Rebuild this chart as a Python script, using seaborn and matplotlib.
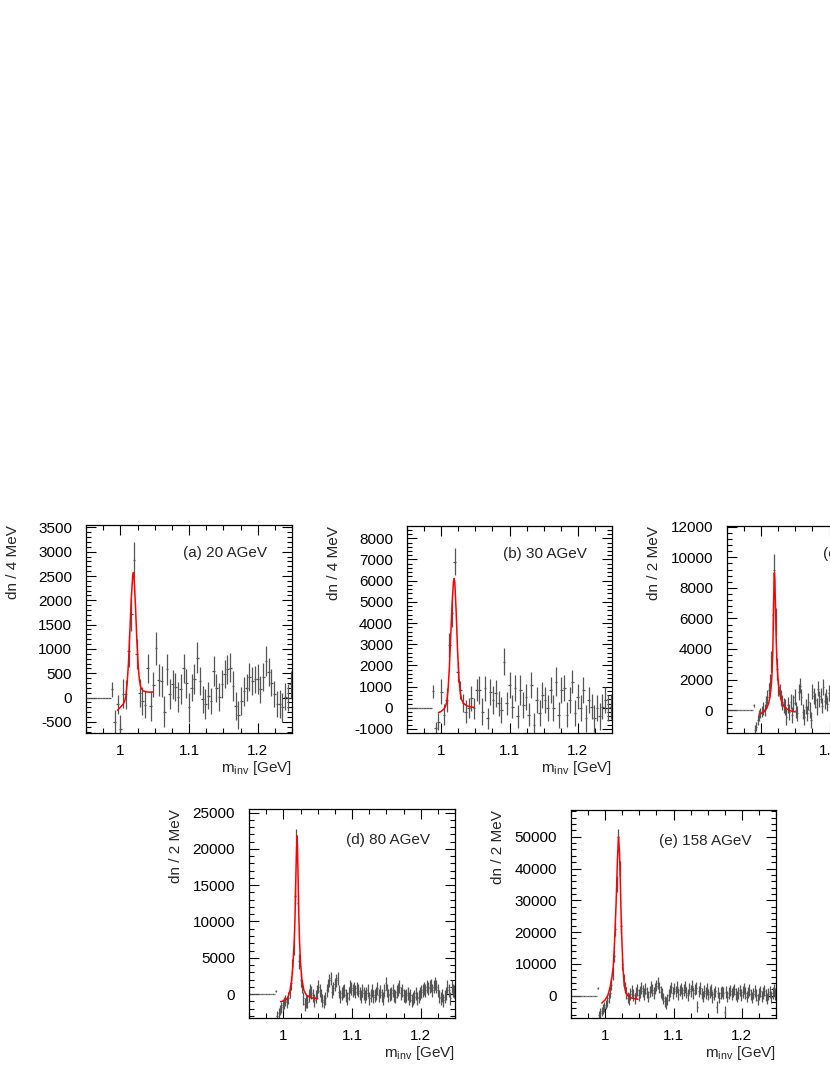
import numpy as np
import matplotlib
matplotlib.use('Agg')
import matplotlib.pyplot as plt
from matplotlib.ticker import MultipleLocator, FuncFormatter
import seaborn as sns

# ─── style ───
sns.set_style('ticks')
plt.rcParams['font.family'] = ['Liberation Sans', 'DejaVu Sans']
plt.rcParams['axes.unicode_minus'] = False
plt.rcParams['mathtext.default'] = 'regular'

# ─── data ───
# (a), (b): 4 MeV bins, first centre 0.952 (9 empty bins below threshold)
A_VALS = [0] * 9 + [
    170, -510, -140, -650, 80, 70, 960, 1710, 2840, 890,
    100, -70, -150, 600, -170, 260, 1010, 355, 330, -290,
    580, 70, 270, 220, 15, 170, 600, 295, -205, 205,
    375, 820, 340, -35, -135, 35, -70, 545, 190, 15,
    270, 480, 580, 615, 240, -170, -355, -70, 125, 205,
    425, 340, 375, 375, 170, 425, 750, 525, 305, 70,
    -135, -125, -205, 15, 0, 275]
A_ERR = [0] * 9 + [
    150, 250, 200, 290, 300, 300, 335, 340, 350, 310,
    290, 290, 275, 305, 305, 255, 340, 325, 325, 325,
    325, 305, 305, 290, 305, 305, 305, 300, 305, 275,
    305, 325, 290, 275, 305, 275, 275, 305, 290, 290,
    290, 290, 305, 305, 305, 290, 290, 290, 290, 275,
    290, 290, 275, 305, 275, 290, 305, 290, 275, 275,
    275, 290, 290, 280, 275, 275]

B_VALS = [0] * 9 + [
    770, -960, -650, 760, -330, 370, 2970, 4460, 6900, 1710,
    840, 215, -180, -20, 450, -20, 840, 840, -180, 920,
    -500, 760, 370, 680, 215, -100, 2180, 215, 1080, 60,
    920, -410, 840, 135, 525, -330, 1080, -810, 370, -255,
    600, 370, -20, 840, -20, 1235, -330, 840, 920, -330,
    370, 1235, -255, 525, -20, 840, -500, 370, 60, -500,
    -20, -410, 60, 370, -20, 60]
B_ERR = [0] * 9 + [
    320, 300, 400, 600, 500, 550, 550, 650, 650, 470,
    430, 430, 550, 470, 600, 500, 520, 650, 620, 600,
    480, 620, 650, 620, 600, 600, 630, 550, 620, 520,
    620, 550, 700, 620, 620, 550, 620, 550, 620, 620,
    620, 620, 600, 620, 600, 700, 620, 620, 620, 600,
    620, 550, 620, 600, 620, 600, 620, 620, 600, 620,
    600, 620, 600, 620, 600, 600]

# (c), (d), (e): 2 MeV bins, first centre 0.951 (19 empty bins below threshold)
C_VALS = [0] * 19 + [
    330, -1300, -1100, -650, -350, -200, -100, 100, 0, 550,
    850, 1300, 1800, 3200, 6200, 9200, 5800, 2700, 1500, 1200,
    800, 500, 300,
    200, -450, 330, -100, 550, -330, 450, 850, 0, -220,
    1200, 1600, 850, -100, -450, 220, -220, 550, 0, -650,
    1200, 950, 650, 220, 1400, 750, 950, 300, 1500, 600,
    900, 400, 1100, 700, 300]
C_ERR = [0] * 19 + [
    100, 300, 300, 300, 350, 350, 350, 400, 400, 400,
    450, 500, 550, 700, 900, 1000, 900, 700, 550, 500,
    500, 480, 520,
    500, 540, 500, 520, 480, 500, 540, 520, 500, 480,
    520, 500, 540, 500, 520, 480, 500, 540, 520, 500,
    480, 520, 500, 540, 500, 520, 480, 500, 540, 520,
    500, 480, 520, 500, 540]

D_VALS = [0] * 19 + [
    450, -3000, -2600, -2200, -1800, -1500, -1200, -900, -1100, -500,
    300, 1500, 3800, 6500, 13500, 21800, 12500, 4500, 1900, 1000,
    -600, -1400, -1000,
    -1050, -140, 550, 200, -140, -830, -370, 320, 1000, 430,
    -140, -830, -1050, -600, 550, 1240, 1930, 2150, 320, 780,
    1350, 1930, 2150, 320, -370, 90, 320, 550, -140, -600,
    90, 1000, 780, 550, 780, 320, 780, 430, 90, -370,
    550, 90, -370, 90, 550, -600, -140, 550, -370, -140,
    90, 780, -140, 320, -140, -600, 550, 1470, 550, -140,
    -20, 90, 550, -140, -370, 320, 660, 1000, 90, 550,
    -140, -370, -140, 90, -600, -140, -830, -600, -370, 90,
    -600, -370, 90, 320, 550, 780, 550, 1000, 780, 1010,
    1240, 550, 1000, 1470, 1010, 550, -370, -600, -140, -830,
    -370, 90, 1000, 550, -600, 1000, 550, 300]
D_ERR = [0] * 19 + [
    150, 700, 700, 750, 750, 800, 800, 800, 850, 850,
    900, 950, 1000, 1100, 1200, 1000, 1100, 1000, 950, 900,
    900, 900, 900] + [900] * 108

E_VALS = [0] * 19 + [
    2300, -6200, -5400, -4900, -4200, -3500, -2800, -1800, -700, 1000,
    3500, 7000, 12500, 21000, 35000, 50000, 40000, 22000, 10000, 5000,
    2600, 800, -600,
    -1000, 500, 1500, 200, -800, 800, 1800, 300, 1200, 2500,
    1500, 600, 2200, 1000, -300, 1300, 2800, 1800, 900, 2200,
    3200, 4000, 2600, 1200, 500, -800, -1800, -2300, -1200, 300,
    1500, 2600, 800, 2200, 1400, 2800, 500, 1700, 2300, 900,
    1800, 2800, 1000, 300, 2200, 1500, 3200, 800, 1900, 2500,
    -3400, 1400, 2400, 700, -200, 1500, 900, 2100, 400, 1200,
    1800, -400, 600, 1400, -3500, 1000, -600, 800, 1300, 900,
    -5000, 1200, -300, 800, 1600, 500, 1300, 2000, 600, -200,
    900, 1700, 300, 1200, 2200, 800, -300, 1000, 1800, 400,
    -600, 700, 1500, 200, -1200, 600, 1400, -200, 900, 1600,
    300, -800, 600, 1200, -400, 800, 1800, 500]
E_ERR = [0] * 19 + [
    300, 1500, 1500, 1500, 1500, 1500, 1500, 1600, 1600, 1700,
    1800, 1900, 2000, 2200, 2500, 2500, 2400, 2200, 2000, 1900,
    1800, 1800, 1800] + [1800] * 108

# fitted curves
A_FIT_X = [0.996, 1.000, 1.004, 1.006, 1.008, 1.010, 1.012, 1.014, 1.016, 1.018, 1.019,
           1.020, 1.022, 1.024, 1.026, 1.028, 1.030, 1.033, 1.038, 1.043, 1.048]
A_FIT_Y = [-260, -200, -140, -90, 20, 300, 750, 1400, 2050, 2500, 2570,
           2480, 1900, 1200, 650, 330, 200, 140, 115, 110, 115]
B_FIT_X = [0.996, 1.000, 1.004, 1.006, 1.008, 1.010, 1.012, 1.014, 1.016, 1.018, 1.019,
           1.020, 1.022, 1.024, 1.026, 1.028, 1.030, 1.033, 1.038, 1.043, 1.048]
B_FIT_Y = [-230, -170, -60, 40, 250, 800, 1900, 3400, 4900, 5950, 6100,
           5900, 4500, 2700, 1400, 700, 380, 200, 90, 40, 20]
C_FIT_X = [0.997, 1.001, 1.005, 1.008, 1.011, 1.013, 1.015, 1.016, 1.017, 1.018, 1.019, 1.0195,
           1.020, 1.021, 1.022, 1.023, 1.025, 1.027, 1.030, 1.034, 1.040, 1.045, 1.050]
C_FIT_Y = [-260, -200, -80, 100, 450, 900, 1700, 2500, 3800, 6300, 8900, 9000,
           8600, 6700, 4600, 3200, 1800, 1100, 550, 200, 0, -80, -120]
D_FIT_X = [0.996, 1.000, 1.004, 1.007, 1.010, 1.012, 1.014, 1.016, 1.017, 1.018, 1.019, 1.0198,
           1.0205, 1.0215, 1.0225, 1.0235, 1.025, 1.027, 1.030, 1.034, 1.040, 1.045, 1.050]
D_FIT_Y = [-1050, -950, -800, -400, 600, 1800, 4000, 7500, 10500, 15000, 19500, 21800,
           20500, 16000, 11000, 7500, 4300, 2000, 500, -200, -500, -600, -650]
E_FIT_X = [0.995, 1.000, 1.004, 1.007, 1.010, 1.012, 1.014, 1.016, 1.018, 1.0195,
           1.021, 1.0225, 1.024, 1.026, 1.028, 1.031, 1.035, 1.040, 1.045, 1.048]
E_FIT_Y = [-2300, -1300, 200, 2500, 6000, 9500, 18000, 29000, 43000, 50000,
           45000, 33000, 20000, 9000, 3000, 600, -400, -800, -1000, -1100]

TAGS = ['(a) 20 AGeV', '(b) 30 AGeV', '(c) 40 AGeV', '(d) 80 AGeV', '(e) 158 AGeV']
YLABELS = ['dn / 4 MeV', 'dn / 4 MeV', 'dn / 2 MeV', 'dn / 2 MeV', 'dn / 2 MeV']

# ─── layout (pixel boxes: left, top, width, height) ───
W, H = 830, 1075
panels = [
    dict(rect=(86, 525, 206, 208), vals=A_VALS, errs=A_ERR, x0=0.952, bw=0.004,
         fit=(A_FIT_X, A_FIT_Y), ylim=(-730, 3550), major=500, minor=100, tx=0.47, ty=0.865),
    dict(rect=(407, 526, 205, 207), vals=B_VALS, errs=B_ERR, x0=0.952, bw=0.004,
         fit=(B_FIT_X, B_FIT_Y), ylim=(-1190, 8580), major=1000, minor=200, tx=0.47, ty=0.865),
    dict(rect=(727, 526, 205, 207), vals=C_VALS, errs=C_ERR, x0=0.951, bw=0.002,
         fit=(C_FIT_X, C_FIT_Y), ylim=(-1500, 12050), major=2000, minor=400, tx=0.47, ty=0.865),
    dict(rect=(249, 809, 206, 209), vals=D_VALS, errs=D_ERR, x0=0.951, bw=0.002,
         fit=(D_FIT_X, D_FIT_Y), ylim=(-3300, 25500), major=5000, minor=1000, tx=0.47, ty=0.852),
    dict(rect=(571, 810, 205, 208), vals=E_VALS, errs=E_ERR, x0=0.951, bw=0.002,
         fit=(E_FIT_X, E_FIT_Y), ylim=(-7000, 58400), major=10000, minor=2000, tx=0.43, ty=0.852),
]

fig = plt.figure(figsize=(W / 100, H / 100), dpi=100)

for p, tag, ylab in zip(panels, TAGS, YLABELS):
    px, py, pw, ph = p['rect']
    ax = fig.add_axes([px / W, 1 - (py + ph) / H, pw / W, ph / H])

    vals = np.array(p['vals'], dtype=float)
    errs = np.array(p['errs'], dtype=float)
    centres = p['x0'] + p['bw'] * np.arange(len(vals))

    ax.errorbar(centres, vals, xerr=p['bw'] / 2, yerr=errs, fmt='none',
                ecolor='#555555', elinewidth=0.9, capsize=0)
    sns.lineplot(x=p['fit'][0], y=p['fit'][1], color='red', lw=1.1, ax=ax)

    ax.set_xlim(0.95, 1.25)
    ax.set_ylim(*p['ylim'])
    ax.xaxis.set_major_locator(MultipleLocator(0.1))
    ax.xaxis.set_minor_locator(MultipleLocator(0.025))
    ax.xaxis.set_major_formatter(FuncFormatter(lambda v, pos: f'{v:g}'))
    ax.yaxis.set_major_locator(MultipleLocator(p['major']))
    ax.yaxis.set_minor_locator(MultipleLocator(p['minor']))

    ax.tick_params(which='both', direction='in', top=True, right=True,
                   colors='black', width=0.8, labelsize=11)
    ax.tick_params(which='major', length=7)
    ax.tick_params(which='minor', length=3.5)
    ax.tick_params(axis='y', pad=10)
    ax.tick_params(axis='x', pad=8)
    for s in ax.spines.values():
        s.set_linewidth(0.9)
        s.set_color('black')

    ax.set_xlabel('$m_{inv}$ [GeV]', fontsize=11, loc='right')
    ax.xaxis.set_label_coords(1.0, -0.125)
    ax.set_ylabel(ylab, fontsize=11, loc='top')
    ax.yaxis.set_label_coords(-0.32, 1.0)

    ax.text(p['tx'], p['ty'], tag, transform=ax.transAxes, fontsize=11,
            ha='left', va='center')

fig.savefig('out.png', dpi=100)
